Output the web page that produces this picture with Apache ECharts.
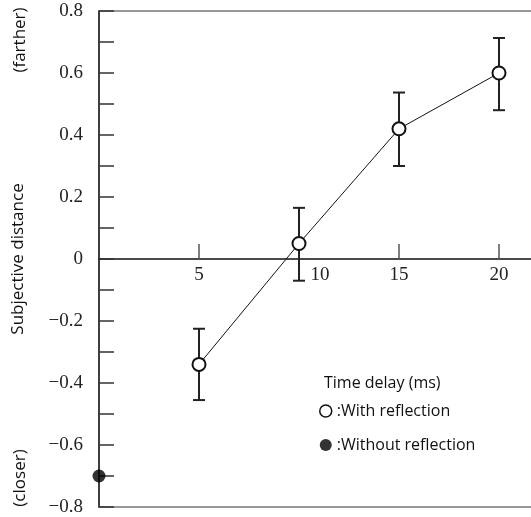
<!DOCTYPE html>
<html><head><meta charset="utf-8">
<script src="https://cdn.jsdelivr.net/npm/echarts@6/dist/echarts.min.js"></script>
<style>html,body{margin:0;padding:0;background:#fff}#c{width:531px;height:517px}</style>
</head><body><div id="c"></div>
<script>
const delays = [5, 10, 15, 20];
const withMean = [-0.34, 0.05, 0.42, 0.60];
const withLow = [-0.455, -0.07, 0.30, 0.48];
const withHigh = [-0.225, 0.165, 0.537, 0.713];
const withoutX = [0];
const withoutMean = [-0.70];
const yTicks = [-0.8, -0.6, -0.4, -0.2, 0, 0.2, 0.4, 0.6, 0.8];
const xTicks = [5, 10, 15, 20];

const chart = echarts.init(document.getElementById('c'));
const serif = 'Liberation Serif';
const sans = 'Open Sans';
chart.setOption({
  animation: false,
  grid: {left: 99, right: -3, top: 11, bottom: 10, outerBoundsMode: 'none', containLabel: false, show: true, borderColor: '#777', borderWidth: 1.5, backgroundColor: 'transparent'},
  title: {text: 'Time delay (ms)', left: 319, top: 370, textStyle: {fontFamily: sans, fontSize: 16, fontWeight: 'normal', color: '#111'}},
  legend: {
    orient: 'vertical', left: 314, top: 398, itemWidth: 12, itemHeight: 12, itemGap: 18,
    textStyle: {fontFamily: sans, fontSize: 16, color: '#111'},
    data: [
      {name: ':With reflection', icon: 'circle', itemStyle: {color: '#fff', borderColor: '#111', borderWidth: 1.5}},
      {name: ':Without reflection', icon: 'circle', itemStyle: {color: '#000'}}
    ]
  },
  xAxis: {
    type: 'value', min: 0, max: 21.75, interval: 5, offset: -248,
    axisLine: {onZero: false, lineStyle: {color: '#111', width: 1.5}},
    axisTick: {show: true, inside: true, length: 15, lineStyle: {color: '#555', width: 1.5}, customValues: xTicks},
    axisLabel: {
      customValues: xTicks, margin: 7, color: '#222', fontFamily: serif, fontSize: 19,
      formatter: v => v === 10 ? '{s|10}' : String(v),
      rich: {s: {padding: [0, 0, 0, 42], fontFamily: serif, fontSize: 19, color: '#222'}}
    },
    splitLine: {show: false}
  },
  yAxis: {
    type: 'value', min: -0.8, max: 0.8, interval: 0.1,
    name: 'Subjective distance', nameLocation: 'middle', nameRotate: 90, nameGap: 72,
    nameTextStyle: {fontFamily: sans, fontSize: 17, color: '#111'},
    axisLine: {show: true, lineStyle: {color: '#222', width: 1.5}},
    axisTick: {show: true, inside: true, length: 15, lineStyle: {color: '#333', width: 1.5}},
    axisLabel: {
      margin: 16, color: '#222', fontFamily: serif, fontSize: 19,
      formatter: v => {
        const r = Math.round(v * 10) / 10;
        const hit = yTicks.find(t => Math.abs(t - r) < 1e-6);
        if (hit === undefined) return '';
        if (hit === 0) return '0';
        return (hit < 0 ? '\u2212' : '') + Math.abs(hit).toFixed(1);
      }
    },
    splitLine: {show: false}
  },
  graphic: [
    {type: 'text', rotation: Math.PI / 2, style: {text: '(farther)', fontFamily: sans, fontSize: 17, fill: '#111', align: 'center', verticalAlign: 'middle'}, x: 20, y: 40},
    {type: 'text', rotation: Math.PI / 2, style: {text: '(closer)', fontFamily: sans, fontSize: 17, fill: '#111', align: 'center', verticalAlign: 'middle'}, x: 20, y: 478}
  ],
  series: [
    {
      name: 'errbar', type: 'custom', silent: true, z: 3,
      data: delays.map((d, i) => [d, withLow[i], withHigh[i]]),
      renderItem: (params, api) => {
        const lo = api.coord([api.value(0), api.value(1)]);
        const hi = api.coord([api.value(0), api.value(2)]);
        const w = 6;
        const st = {stroke: '#222', lineWidth: 2};
        return {type: 'group', children: [
          {type: 'line', shape: {x1: lo[0], y1: lo[1], x2: hi[0], y2: hi[1]}, style: st},
          {type: 'line', shape: {x1: lo[0] - w, y1: lo[1], x2: lo[0] + w, y2: lo[1]}, style: st},
          {type: 'line', shape: {x1: hi[0] - w, y1: hi[1], x2: hi[0] + w, y2: hi[1]}, style: st}
        ]};
      }
    },
    {
      name: ':With reflection', type: 'line', z: 5,
      data: delays.map((d, i) => [d, withMean[i]]),
      symbol: 'circle', symbolSize: 13,
      lineStyle: {color: '#111', width: 1},
      itemStyle: {color: '#fff', borderColor: '#111', borderWidth: 2}
    },
    {
      name: ':Without reflection', type: 'scatter', z: 6, clip: false,
      data: withoutX.map((d, i) => [d, withoutMean[i]]),
      symbol: 'circle', symbolSize: 13,
      itemStyle: {color: '#000'}
    }
  ]
});
</script></body></html>
